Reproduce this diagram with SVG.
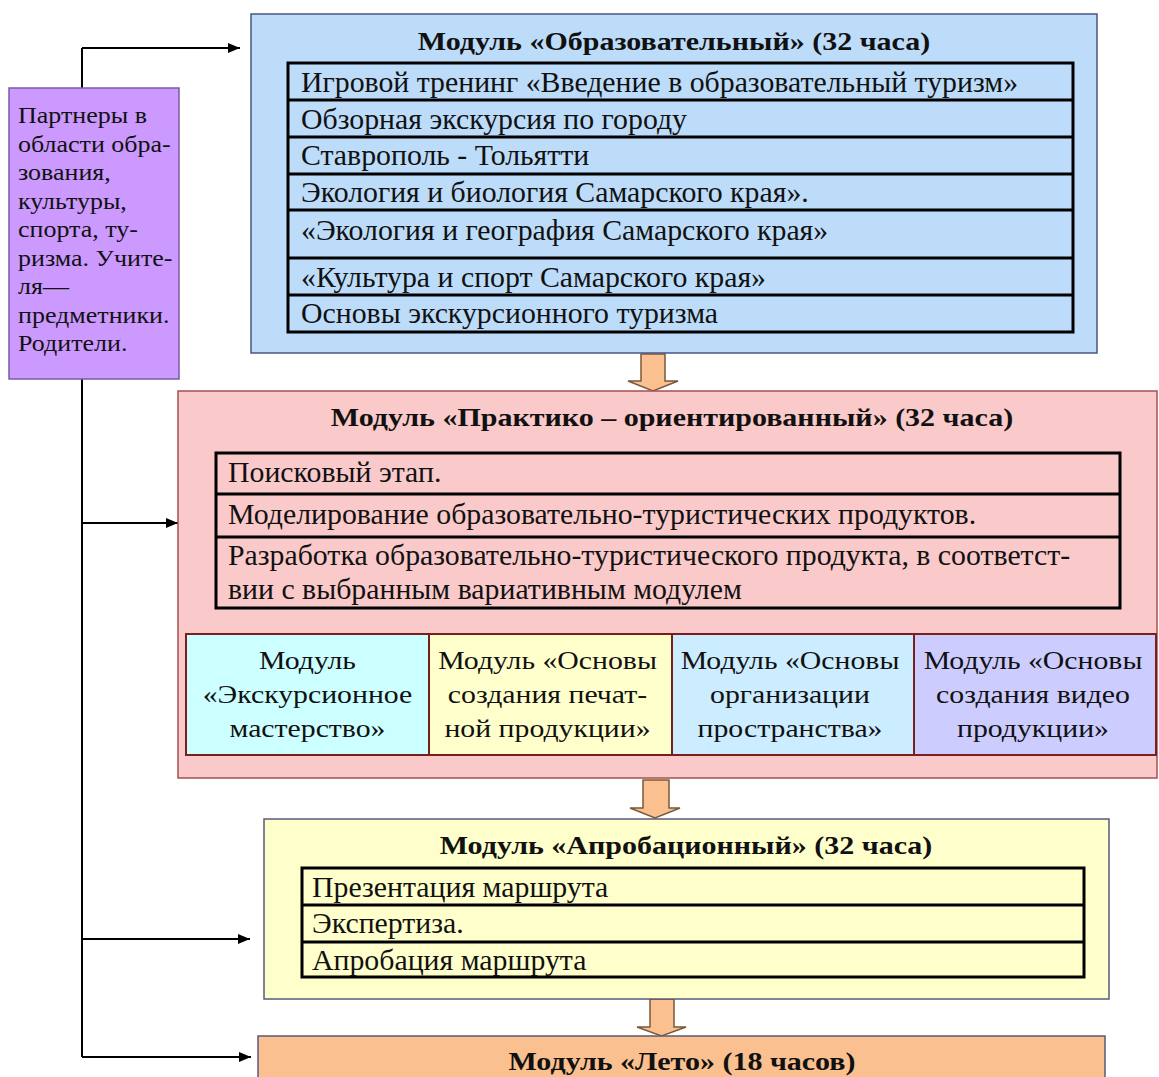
<svg xmlns="http://www.w3.org/2000/svg" width="1159" height="1077" viewBox="0 0 1159 1077">
<defs>
<marker id="ah" markerWidth="12" markerHeight="10" refX="12" refY="5" orient="auto" markerUnits="userSpaceOnUse">
<path d="M0,0 L12,5 L0,10 Z" fill="#000"/>
</marker>
<style>
.t{font-family:"Liberation Serif","Times New Roman",serif;fill:#111}
.title{font-size:25px;font-weight:bold;text-anchor:middle}
.row{font-size:29.8px}
.mod{font-size:26px;text-anchor:middle}
.side{font-size:23px}
.tbl{fill:none;stroke:#000;stroke-width:3}
.ln{stroke:#000;stroke-width:3}
.conn{stroke:#000;stroke-width:2;fill:none}
.bigarrow{fill:#FAC08F;stroke:#7A5A3A;stroke-width:1.5}
</style>
</defs>
<rect width="1159" height="1077" fill="#fff"/>

<g id="connectors">
<path class="conn" d="M82,48 V1057"/>
<path class="conn" d="M82,48 H240" marker-end="url(#ah)"/>
<path class="conn" d="M82,523 H178" marker-end="url(#ah)"/>
<path class="conn" d="M82,939 H250" marker-end="url(#ah)"/>
<path class="conn" d="M82,1057 H251" marker-end="url(#ah)"/>
<path class="bigarrow" d="M641,354 H665 V381 H678 L653,391 L628,381 H641 Z"/>
<path class="bigarrow" d="M643,780 H669 V808 H680 L655,818 L630,808 H643 Z"/>
<path class="bigarrow" d="M650,999 H674 V1027 H686 L661.5,1036 L637,1027 H650 Z"/>
</g>

<g id="partners">
<rect x="9" y="88" width="170" height="291" fill="#CC99FF" stroke="#7A5AA8" stroke-width="1.5"/>
<text class="t side" transform="translate(18,123) scale(1.13,1)">Партнеры в</text>
<text class="t side" transform="translate(18,151.5) scale(1.13,1)">области обра-</text>
<text class="t side" transform="translate(18,180) scale(1.13,1)">зования,</text>
<text class="t side" transform="translate(18,208.5) scale(1.13,1)">культуры,</text>
<text class="t side" transform="translate(18,237) scale(1.13,1)">спорта, ту-</text>
<text class="t side" transform="translate(18,265.5) scale(1.13,1)">ризма. Учите-</text>
<text class="t side" transform="translate(18,294) scale(1.13,1)">ля—</text>
<text class="t side" transform="translate(18,322.5) scale(1.13,1)">предметники.</text>
<text class="t side" transform="translate(18,351) scale(1.13,1)">Родители.</text>
</g>

<g id="module-edu">
<rect x="251" y="14" width="846" height="339" fill="#BCDCF9" stroke="#4A5584" stroke-width="1.5"/>
<text class="t title" transform="translate(674,50) scale(1.2,1)">Модуль «Образовательный» (32 часа)</text>
<rect class="tbl" x="288" y="63" width="785" height="269"/>
<line class="ln" x1="288" y1="100" x2="1073" y2="100"/>
<line class="ln" x1="288" y1="137" x2="1073" y2="137"/>
<line class="ln" x1="288" y1="174" x2="1073" y2="174"/>
<line class="ln" x1="288" y1="210" x2="1073" y2="210"/>
<line class="ln" x1="288" y1="258" x2="1073" y2="258"/>
<line class="ln" x1="288" y1="295" x2="1073" y2="295"/>
<text class="t row" x="301" y="92">Игровой тренинг «Введение в образовательный туризм»</text>
<text class="t row" x="301" y="129">Обзорная экскурсия по городу</text>
<text class="t row" x="301" y="165">Ставрополь - Тольятти</text>
<text class="t row" x="301" y="202">Экология и биология Самарского края».</text>
<text class="t row" x="301" y="240">«Экология и география Самарского края»</text>
<text class="t row" x="301" y="287">«Культура и спорт Самарского края»</text>
<text class="t row" x="301" y="323">Основы экскурсионного туризма</text>
</g>

<g id="module-practice">
<rect x="178" y="391" width="979" height="387" fill="#FAC9C9" stroke="#A35050" stroke-width="1.5"/>
<text class="t title" transform="translate(672,426) scale(1.2,1)">Модуль «Практико – ориентированный» (32 часа)</text>
<rect class="tbl" x="216" y="453" width="904" height="155"/>
<line class="ln" x1="216" y1="494" x2="1120" y2="494"/>
<line class="ln" x1="216" y1="537" x2="1120" y2="537"/>
<text class="t row" x="228" y="482">Поисковый этап.</text>
<text class="t row" x="228" y="524">Моделирование образовательно-туристических продуктов.</text>
<text class="t row" x="228" y="565">Разработка образовательно-туристического продукта, в соответст-</text>
<text class="t row" x="228" y="599">вии с выбранным вариативным модулем</text>
</g>

<g id="submodule-1">
<rect x="186" y="634" width="243" height="121" fill="#CCFFFF" stroke="#7A1E1E" stroke-width="2"/>
<text class="t mod" transform="translate(307.5,669) scale(1.145,1)">Модуль</text>
<text class="t mod" transform="translate(307.5,703) scale(1.145,1)">«Экскурсионное</text>
<text class="t mod" transform="translate(307.5,737) scale(1.145,1)">мастерство»</text>
</g>
<g id="submodule-2">
<rect x="429" y="634" width="243" height="121" fill="#FFFFCC" stroke="#7A1E1E" stroke-width="2"/>
<text class="t mod" transform="translate(547.5,669) scale(1.145,1)">Модуль «Основы</text>
<text class="t mod" transform="translate(547.5,703) scale(1.145,1)">создания печат-</text>
<text class="t mod" transform="translate(547.5,737) scale(1.145,1)">ной продукции»</text>
</g>
<g id="submodule-3">
<rect x="672" y="634" width="242" height="121" fill="#CCECFF" stroke="#7A1E1E" stroke-width="2"/>
<text class="t mod" transform="translate(790,669) scale(1.145,1)">Модуль «Основы</text>
<text class="t mod" transform="translate(790,703) scale(1.145,1)">организации</text>
<text class="t mod" transform="translate(790,737) scale(1.145,1)">пространства»</text>
</g>
<g id="submodule-4">
<rect x="914" y="634" width="242" height="121" fill="#CCCCFF" stroke="#7A1E1E" stroke-width="2"/>
<text class="t mod" transform="translate(1033,669) scale(1.145,1)">Модуль «Основы</text>
<text class="t mod" transform="translate(1033,703) scale(1.145,1)">создания видео</text>
<text class="t mod" transform="translate(1033,737) scale(1.145,1)">продукции»</text>
</g>

<g id="module-approb">
<rect x="264" y="819" width="845" height="180" fill="#FFFFCC" stroke="#5A5A7A" stroke-width="1.5"/>
<text class="t title" transform="translate(686,854) scale(1.2,1)">Модуль «Апробационный» (32 часа)</text>
<rect class="tbl" x="302" y="868" width="782" height="109"/>
<line class="ln" x1="302" y1="905" x2="1084" y2="905"/>
<line class="ln" x1="302" y1="942" x2="1084" y2="942"/>
<text class="t row" x="312" y="897">Презентация маршрута</text>
<text class="t row" x="312" y="933">Экспертиза.</text>
<text class="t row" x="312" y="970">Апробация маршрута</text>
</g>

<g id="module-summer">
<rect x="258" y="1036" width="847" height="60" fill="#FAC08F" stroke="#5A5A7A" stroke-width="1.5"/>
<text class="t title" transform="translate(682,1070) scale(1.2,1)">Модуль «Лето» (18 часов)</text>
</g>
</svg>
